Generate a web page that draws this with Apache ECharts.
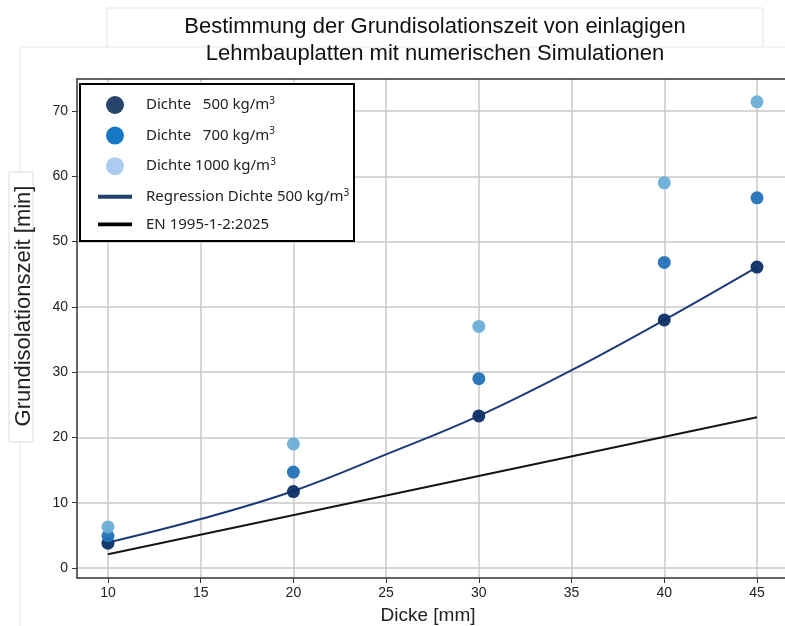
<!DOCTYPE html>
<html><head><meta charset="utf-8">
<script src="https://cdn.jsdelivr.net/npm/echarts@6/dist/echarts.min.js"></script>
<style>html,body{margin:0;padding:0;background:#fff}#c{width:785px;height:626px}</style>
</head><body><div id="c"></div>
<script>
const xPts = [10, 20, 30, 40, 45];
const dichte500 = [3.8, 11.7, 23.3, 38.0, 46.1];
const dichte700 = [4.9, 14.7, 29.0, 46.8, 56.7];
const dichte1000 = [6.3, 19.0, 37.0, 59.0, 71.4];
const regX = [10, 15, 20, 25, 30, 35, 40, 45];
const regression500 = [3.9, 7.5, 11.8, 17.4, 23.3, 30.3, 38.0, 46.1];
const enX = [10, 45];
const en1995 = [2.1, 23.1];
const xTicks = [10, 15, 20, 25, 30, 35, 40, 45];
const yTicks = [0, 10, 20, 30, 40, 50, 60, 70];
const names = ['Dichte 500 kg/m³', 'Dichte 700 kg/m³', 'Dichte 1000 kg/m³', 'Regression Dichte 500 kg/m³', 'EN 1995-1-2:2025'];
const legendLabels = {
  'Dichte 500 kg/m³': 'Dichte   500 kg/m{sup|3}',
  'Dichte 700 kg/m³': 'Dichte   700 kg/m{sup|3}',
  'Dichte 1000 kg/m³': 'Dichte 1000 kg/m{sup|3}',
  'Regression Dichte 500 kg/m³': 'Regression Dichte 500 kg/m{sup|3}',
  'EN 1995-1-2:2025': 'EN 1995-1-2:2025'
};
const zip = (a, b) => a.map((v, i) => [v, b[i]]);
const narrow = "'Liberation Sans Narrow','Arial Narrow','Liberation Sans',sans-serif";
const regular = "'Liberation Sans', Arial, sans-serif";
const chart = echarts.init(document.getElementById('c'), null, {renderer: 'canvas'});
chart.setOption({
  animation: false,
  backgroundColor: '#fff',
  grid: {left: 77, top: 79, right: 0, bottom: 48},
  xAxis: [{
    type: 'value', min: 8.33, max: 46.51,
    axisLine: {onZero: false, lineStyle: {color: '#333', width: 1.5}},
    axisTick: {show: true, length: 5, lineStyle: {color: '#333'}, customValues: xTicks},
    axisLabel: {customValues: xTicks, color: '#222', fontFamily: narrow, fontSize: 14, margin: 8},
    splitLine: {show: true, lineStyle: {color: '#c8c8c8', width: 1.5}}
  }, {
    type: 'value', position: 'top', min: 8.33, max: 46.51,
    axisLine: {show: true, onZero: false, lineStyle: {color: '#333', width: 1.5}},
    axisTick: {show: false}, axisLabel: {show: false}, splitLine: {show: false}
  }],
  yAxis: {
    type: 'value', min: -1.53, max: 74.9,
    axisLine: {show: true, onZero: false, lineStyle: {color: '#333', width: 1.5}},
    axisTick: {show: true, length: 5, lineStyle: {color: '#333'}, customValues: yTicks},
    axisLabel: {customValues: yTicks, color: '#222', fontFamily: narrow, fontSize: 14, margin: 9},
    splitLine: {show: true, lineStyle: {color: '#c8c8c8', width: 1.5}}
  },
  legend: {
    orient: 'vertical', left: 98, top: 96, z: 100, padding: 0,
    itemWidth: 34, itemHeight: 18, itemGap: 12.6,
    textStyle: {fontFamily: "'Noto Sans',sans-serif", fontSize: 15, color: '#222', padding: [0, 0, 0, 9],
      rich: {sup: {fontSize: 10, verticalAlign: 'top', padding: [0, 0, 8, 0], fontFamily: "'Noto Sans',sans-serif"}}},
    formatter: n => legendLabels[n],
    data: [
      {name: names[0], icon: 'circle', itemStyle: {color: '#1b3a63'}},
      {name: names[1], icon: 'circle', itemStyle: {color: '#0a70c2'}},
      {name: names[2], icon: 'circle', itemStyle: {color: '#a7c9ee'}},
      {name: names[3], icon: 'path://M0,0H35V4H0Z', itemStyle: {color: '#1f4068'}},
      {name: names[4], icon: 'path://M0,0H35V4H0Z', itemStyle: {color: '#000'}}
    ]
  },
  graphic: {elements: [
    {type: 'polyline', shape: {points: [[107, 47], [107, 8], [763, 8], [763, 46]]}, style: {stroke: '#e2e2e2', fill: null, lineWidth: 1}, z: 1},
    {type: 'polyline', shape: {points: [[20, 626], [20, 47], [785, 47]]}, style: {stroke: '#e8e8e8', fill: null, lineWidth: 1}, z: 1},
    {type: 'rect', shape: {x: 9, y: 172, width: 24, height: 270}, style: {stroke: '#dcdcdc', fill: '#fff', lineWidth: 1}, z: 2},
    {type: 'text', x: 435, y: 27, style: {text: 'Bestimmung der Grundisolationszeit von einlagigen', font: "22px " + regular, fill: '#111', align: 'center', verticalAlign: 'middle'}, z: 5},
    {type: 'text', x: 435, y: 54, style: {text: 'Lehmbauplatten mit numerischen Simulationen', font: "22px " + regular, fill: '#111', align: 'center', verticalAlign: 'middle'}, z: 5},
    {type: 'text', x: 428, y: 616, style: {text: 'Dicke [mm]', font: "19px " + narrow, fill: '#222', align: 'center', verticalAlign: 'middle'}, z: 5},
    {type: 'text', x: 24, y: 306, rotation: Math.PI / 2, style: {text: 'Grundisolationszeit [min]', font: "22px " + regular, fill: '#222', align: 'center', verticalAlign: 'middle'}, z: 5},
    {type: 'rect', shape: {x: 80, y: 84, width: 274, height: 157}, style: {stroke: '#000', fill: '#fff', lineWidth: 2}, z: 50}
  ]},
  series: [
    {name: names[3], type: 'line', data: zip(regX, regression500), smooth: 0.4, symbol: 'none', lineStyle: {color: '#1c3a78', width: 2}, itemStyle: {color: '#1c3a78'}, z: 3},
    {name: names[4], type: 'line', data: zip(enX, en1995), symbol: 'none', lineStyle: {color: '#151515', width: 2}, itemStyle: {color: '#151515'}, z: 3},
    {name: names[0], type: 'scatter', data: zip(xPts, dichte500), symbolSize: 13, clip: false, itemStyle: {color: '#0b2f66', opacity: 0.95}, z: 4},
    {name: names[1], type: 'scatter', data: zip(xPts, dichte700), symbolSize: 13, clip: false, itemStyle: {color: '#2272b8', opacity: 0.95}, z: 4},
    {name: names[2], type: 'scatter', data: zip(xPts, dichte1000), symbolSize: 13, clip: false, itemStyle: {color: '#6aaed6', opacity: 0.95}, z: 4}
  ]
});
</script></body></html>
